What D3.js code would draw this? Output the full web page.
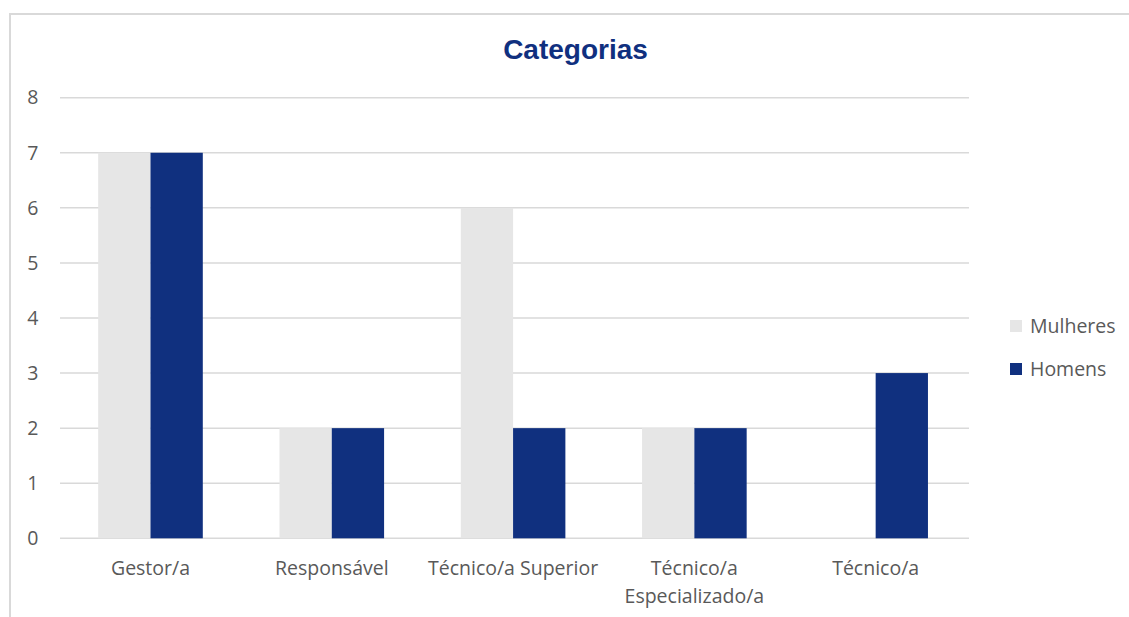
<!DOCTYPE html>
<html>
<head>
<meta charset="utf-8">
<script src="https://cdn.jsdelivr.net/npm/d3@7"></script>
<style>
  body { margin: 0; background: #fff; }
  text { font-family: "Open Sans", "Noto Sans", sans-serif; fill: #595959; }
</style>
</head>
<body>
<svg id="chart" width="1129" height="617"></svg>
<script>
const categories = ["Gestor/a", "Responsável", "Técnico/a Superior", "Técnico/a|Especializado/a", "Técnico/a"];
const seriesNames = ["Mulheres", "Homens"];
const mulheres = [7, 2, 6, 2, 0];
const homens = [7, 2, 2, 2, 3];
const yTicks = [0, 1, 2, 3, 4, 5, 6, 7, 8];

const colors = { Mulheres: "#e6e6e6", Homens: "#10307f" };

const svg = d3.select("#chart");

// frame
svg.append("path")
  .attr("d", "M10,617 V14 H1129")
  .attr("fill", "none")
  .attr("stroke", "#d9d9d9")
  .attr("stroke-width", 2);

const y = d3.scaleLinear().domain([0, 8]).range([538.3, 97.7]);
const x0 = d3.scaleBand().domain(categories).range([59.85, 966.3]).paddingInner(0.423).paddingOuter(0.2115);
const x1 = d3.scaleBand().domain(seriesNames).range([0, x0.bandwidth()]);

// gridlines
svg.append("g")
  .selectAll("line")
  .data(yTicks)
  .join("line")
  .attr("x1", 60)
  .attr("x2", 969)
  .attr("y1", d => y(d))
  .attr("y2", d => y(d))
  .attr("stroke", "#d9d9d9")
  .attr("stroke-width", 1.5);

// y axis labels
const yAxis = svg.append("g")
  .attr("transform", "translate(38.5,0)")
  .call(d3.axisLeft(y).tickValues(yTicks).tickSize(0).tickPadding(0));
yAxis.select(".domain").remove();
yAxis.selectAll("text")
  .attr("font-size", 19.5)
  .attr("fill", "#595959");

// bars
const rows = categories.map((c, i) => ({ cat: c, values: [
  { key: "Mulheres", v: mulheres[i] },
  { key: "Homens", v: homens[i] }
]}));

svg.append("g")
  .selectAll("g")
  .data(rows)
  .join("g")
  .attr("transform", d => `translate(${x0(d.cat)},0)`)
  .selectAll("rect")
  .data(d => d.values)
  .join("rect")
  .attr("x", d => x1(d.key))
  .attr("width", x1.bandwidth())
  .attr("y", d => y(d.v))
  .attr("height", d => y(0) - y(d.v))
  .attr("fill", d => colors[d.key]);

// category labels
const xLabels = svg.append("g")
  .selectAll("text")
  .data(categories)
  .join("text")
  .attr("x", d => x0(d) + x0.bandwidth() / 2)
  .attr("y", 575)
  .attr("text-anchor", "middle")
  .attr("font-size", 19.5);
xLabels.selectAll("tspan")
  .data(d => d.split("|"))
  .join("tspan")
  .attr("x", function() { return this.parentNode.getAttribute("x"); })
  .attr("dy", (d, i) => i === 0 ? 0 : 28)
  .text(d => d);

// title
svg.append("text")
  .attr("x", 575.5)
  .attr("y", 59)
  .attr("text-anchor", "middle")
  .attr("font-weight", "bold")
  .attr("font-size", 28)
  .style("font-family", "'Liberation Sans', Arial, sans-serif")
  .style("fill", "#10307f")
  .text("Categorias");

// legend
const legend = svg.append("g")
  .selectAll("g")
  .data(seriesNames)
  .join("g")
  .attr("transform", (d, i) => `translate(1010,${320 + i * 43})`);
legend.append("rect")
  .attr("width", 12)
  .attr("height", 12)
  .attr("fill", d => colors[d]);
legend.append("text")
  .attr("x", 20)
  .attr("y", 12.5)
  .attr("font-size", 19.5)
  .text(d => d);
</script>
</body>
</html>
